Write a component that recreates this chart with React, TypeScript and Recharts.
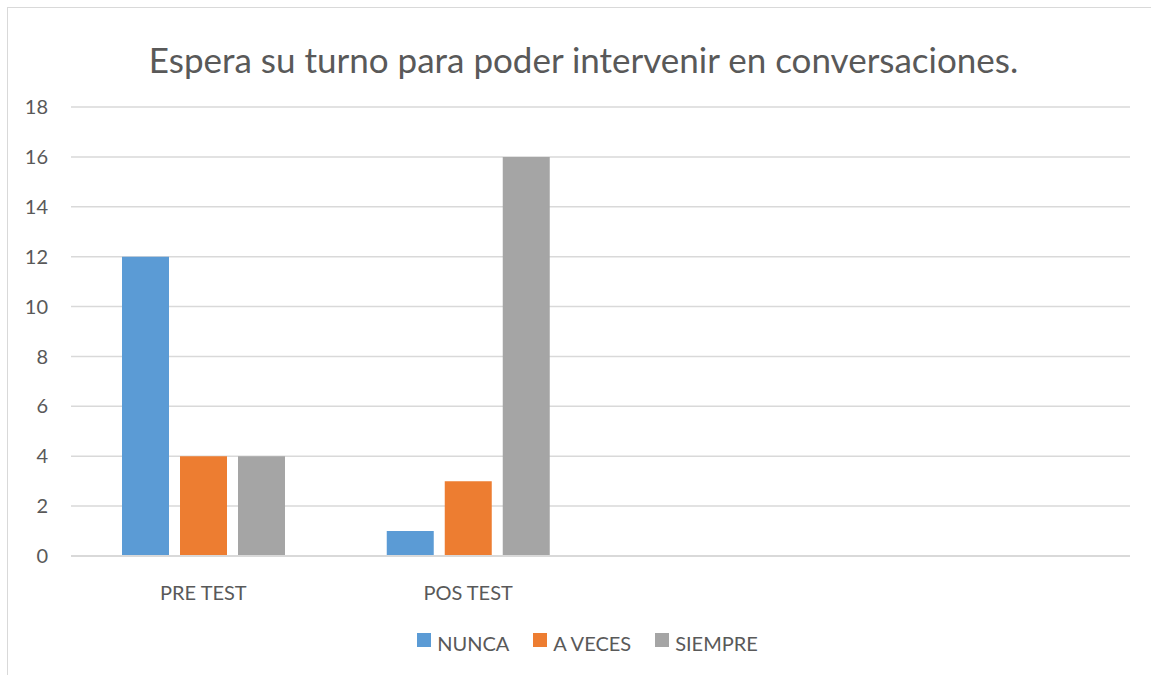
import React from 'react';
import { BarChart, Bar, XAxis, YAxis, CartesianGrid, Legend } from 'recharts';

const categories = ['PRE TEST', 'POS TEST', '', ' '];
const nunca = [12, 1, null, null];
const aVeces = [4, 3, null, null];
const siempre = [4, 16, null, null];
const yTicks = [0, 2, 4, 6, 8, 10, 12, 14, 16, 18];

const series = [
  { key: 'nunca', name: 'NUNCA', color: '#5B9BD5' },
  { key: 'aVeces', name: 'A VECES', color: '#ED7D31' },
  { key: 'siempre', name: 'SIEMPRE', color: '#A5A5A5' },
];

const data = categories.map((c, i) => ({
  name: c,
  nunca: nunca[i],
  aVeces: aVeces[i],
  siempre: siempre[i],
}));

const FONT = 'Lato, "Open Sans", sans-serif';
const TEXT = '#595959';

const renderLegend = () => (
  <div style={{ display: 'flex', justifyContent: 'center', fontFamily: FONT, fontSize: 20, color: TEXT }}>
    {series.map((s) => (
      <div key={s.key} style={{ display: 'flex', alignItems: 'center', marginRight: 24 }}>
        <span style={{ width: 14, height: 14, background: s.color, display: 'inline-block', marginRight: 6, marginTop: -6 }} />
        <span>{s.name}</span>
      </div>
    ))}
  </div>
);

const App: React.FC = () => {
  return (
    <div style={{ position: 'absolute', left: 0, top: 0, width: 1151, height: 675, overflow: 'hidden', background: '#fff' }}>
      <div style={{ position: 'absolute', left: 7, top: 7, width: 1170, height: 700, border: '1px solid #d9d9d9' }} />
      <div style={{ position: 'absolute', left: 0, top: 38, width: 1167, textAlign: 'center', fontFamily: FONT, fontSize: 35, color: TEXT }}>
        Espera su turno para poder intervenir en conversaciones.
      </div>
      <div style={{ position: 'absolute', left: 0, top: 0 }}>
        <BarChart width={1151} height={675} data={data} margin={{ top: 107, right: 21, left: 0, bottom: 89 }} barSize={47} barGap={11}>
          <CartesianGrid vertical={false} stroke="#d9d9d9" strokeWidth={1.5} />
          <XAxis dataKey="name" axisLine={{ stroke: '#d9d9d9', strokeWidth: 2 }} tickLine={false} tickMargin={24}
            tick={{ fill: TEXT, fontSize: 20, fontFamily: FONT }} height={30} />
          <YAxis domain={[0, 18]} ticks={yTicks} width={71} axisLine={false} tickLine={false} tickMargin={17}
            tick={{ fill: TEXT, fontSize: 20, fontFamily: FONT }} />
          {series.map((s) => (
            <Bar key={s.key} dataKey={s.key} name={s.name} fill={s.color} isAnimationActive={false} />
          ))}
          <Legend verticalAlign="middle" layout="horizontal" content={renderLegend}
            wrapperStyle={{ top: 631, left: 24, width: 1151 }} />
        </BarChart>
      </div>
    </div>
  );
};

export default App;
